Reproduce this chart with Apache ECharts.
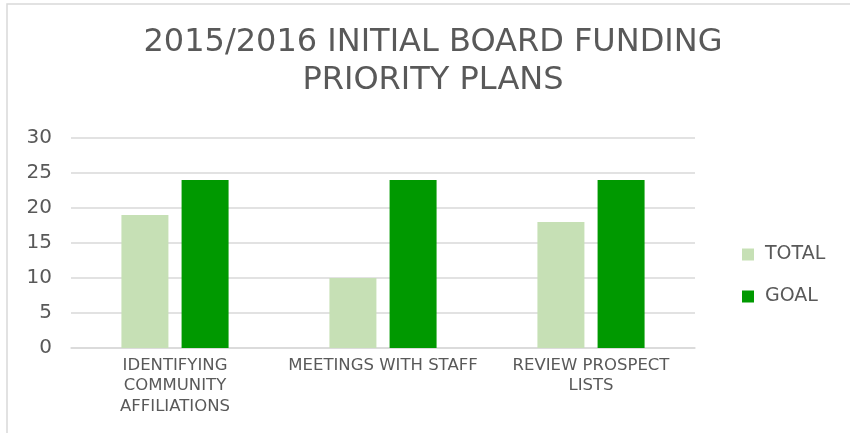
<!DOCTYPE html>
<html>
<head>
<meta charset="utf-8">
<script src="https://cdn.jsdelivr.net/npm/echarts@6/dist/echarts.min.js"></script>
<style>
  html, body { margin: 0; padding: 0; background: #fff; }
  #main { width: 850px; height: 433px; }
</style>
</head>
<body>
<div id="main"></div>
<script>
var categories = ['IDENTIFYING\nCOMMUNITY\nAFFILIATIONS', 'MEETINGS WITH STAFF', 'REVIEW PROSPECT\nLISTS'];
var totalValues = [19, 10, 18];
var goalValues = [24, 24, 24];
var yTicks = { min: 0, max: 30, interval: 5 };

document.addEventListener('DOMContentLoaded', function () {
    var font = '"DejaVu Sans", sans-serif';
    var myChart = echarts.init(document.getElementById('main'));
    myChart.setOption({
        animation: false,
        graphic: [{
            type: 'rect',
            shape: { x: 7, y: 4, width: 900, height: 500 },
            style: { fill: 'none', stroke: '#d9d9d9', lineWidth: 1.5 },
            silent: true
        }],
        title: {
            text: '2015/2016 INITIAL BOARD FUNDING\nPRIORITY PLANS',
            left: 428,
            textAlign: 'center',
            top: 19,
            textStyle: {
                fontFamily: font,
                fontWeight: 'normal',
                fontSize: 32,
                lineHeight: 38,
                color: '#595959'
            }
        },
        legend: {
            orient: 'vertical',
            left: 737,
            top: 240,
            itemWidth: 12,
            itemHeight: 12,
            itemGap: 23,
            icon: 'rect',
            textStyle: { fontFamily: font, fontSize: 19, color: '#595959', padding: [0, 0, 0, 6] },
            data: ['TOTAL', 'GOAL']
        },
        grid: {
            left: 71,
            right: 155,
            top: 138,
            bottom: 85,
            containLabel: false
        },
        xAxis: {
            type: 'category',
            data: categories,
            axisLine: { lineStyle: { color: '#d9d9d9', width: 1.5 } },
            axisTick: { show: false },
            axisLabel: {
                fontFamily: font,
                fontSize: 16.5,
                lineHeight: 20.5,
                color: '#595959',
                margin: 7,
                interval: 0
            }
        },
        yAxis: {
            type: 'value',
            min: yTicks.min,
            max: yTicks.max,
            interval: yTicks.interval,
            axisLine: { show: false },
            axisTick: { show: false },
            splitLine: { lineStyle: { color: '#d9d9d9', width: 1.5 } },
            axisLabel: {
                fontFamily: font,
                fontSize: 20,
                color: '#595959',
                margin: 19
            }
        },
        series: [
            {
                name: 'TOTAL',
                type: 'bar',
                data: totalValues,
                barWidth: 47,
                barGap: '28%',
                itemStyle: { color: '#c6e0b5' }
            },
            {
                name: 'GOAL',
                type: 'bar',
                data: goalValues,
                barWidth: 47,
                barGap: '28%',
                itemStyle: { color: '#009900' }
            }
        ]
    });
});
</script>
</body>
</html>
